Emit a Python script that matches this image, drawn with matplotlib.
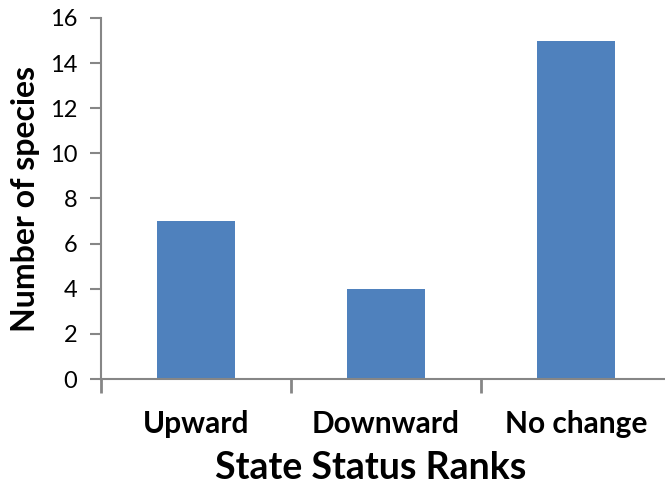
import matplotlib
matplotlib.use("Agg")
import matplotlib.pyplot as plt

categories = ["Upward", "Downward", "No change"]
species_counts = [7, 4, 15]
y_ticks = [0, 2, 4, 6, 8, 10, 12, 14, 16]

plt.rcParams["font.family"] = ["Lato", "DejaVu Sans"]

fig = plt.figure(figsize=(6.65, 4.86), dpi=100)
ax = fig.add_axes([101 / 665, 1 - 379 / 486, 570 / 665, 361 / 486])

x = list(range(len(categories)))
ax.bar(x, species_counts, width=0.41, color="#4F81BD")

ax.set_xlim(-0.5, len(categories) - 0.5)
ax.set_ylim(0, 16)
ax.set_yticks(y_ticks)
ax.set_yticklabels([str(v) for v in y_ticks], fontsize=17)

# category boundaries get the tick marks, labels sit at bar centres
ax.set_xticks([i - 0.5 for i in range(len(categories) + 1)])
ax.set_xticklabels([])
ax.set_xticks(x, minor=True)
ax.set_xticklabels(categories, minor=True, fontsize=21.5, fontweight="bold")
ax.tick_params(axis="x", which="minor", length=0, pad=22)
ax.tick_params(axis="x", which="major", length=10, width=2, color="#868686")
ax.tick_params(axis="y", length=8, width=1.5, color="#868686", pad=9)

for side in ["top", "right"]:
    ax.spines[side].set_visible(False)
for side in ["left", "bottom"]:
    ax.spines[side].set_color("#868686")
    ax.spines[side].set_linewidth(1.5)

ax.set_xlabel("State Status Ranks", fontsize=27, fontweight="bold", labelpad=10, x=0.474)
ax.set_ylabel("Number of species", fontsize=23, fontweight="bold", labelpad=7)

fig.savefig("out.png", dpi=100)
